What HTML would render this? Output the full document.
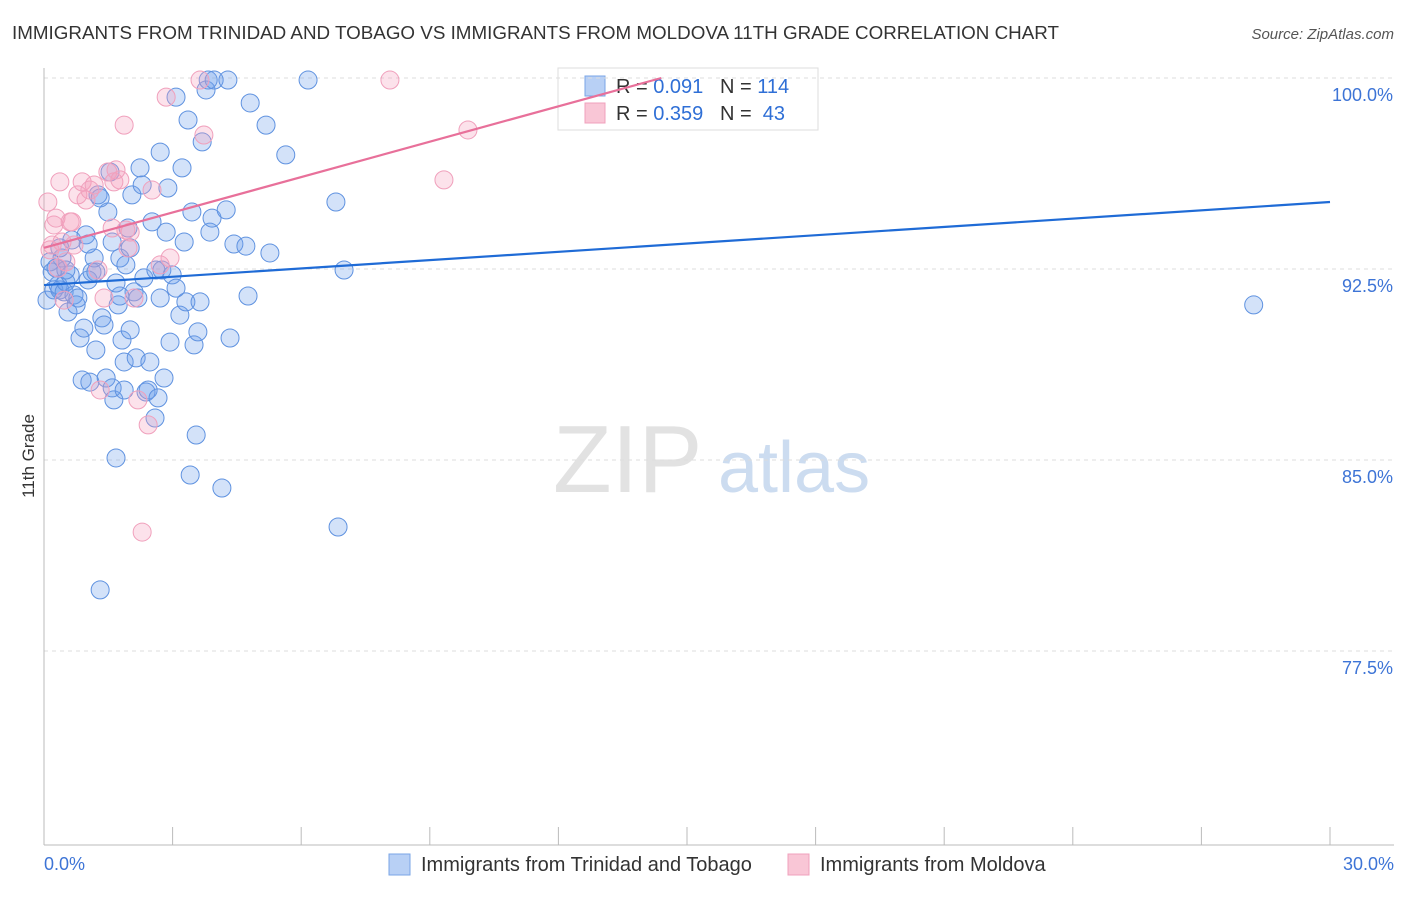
<!DOCTYPE html>
<html><head><meta charset="utf-8"><style>
body{margin:0;background:#fff;font-family:"Liberation Sans",sans-serif;}
svg text{font-family:"Liberation Sans",sans-serif;}
</style></head><body>
<svg id="c" width="1406" height="892">
<text x="12" y="39" font-size="18" fill="#333" textLength="1047" lengthAdjust="spacingAndGlyphs">IMMIGRANTS FROM TRINIDAD AND TOBAGO VS IMMIGRANTS FROM MOLDOVA 11TH GRADE CORRELATION CHART</text>
<text x="1394" y="39" font-size="15" fill="#555" font-style="italic" text-anchor="end">Source: ZipAtlas.com</text>
<text x="34" y="456" font-size="17" fill="#333" transform="rotate(-90 34 456)" text-anchor="middle">11th Grade</text>
<g><text x="553" y="492" font-size="96" fill="#e2e2e2" font-family="Liberation Serif,serif">ZIP</text><text x="718" y="492" font-size="72" fill="#ccdcf0">atlas</text></g>
<g>
<rect x="558" y="68" width="260" height="62" fill="#fff" stroke="#ddd"/>
<rect x="585" y="76" width="20" height="20" fill="#b8d0f5" stroke="#7aa5e6"/>
<rect x="585" y="103" width="20" height="20" fill="#f9c6d6" stroke="#f0a0bc"/>
<text x="616" y="93" font-size="20" fill="#333">R = <tspan fill="#2f6fd6">0.091</tspan>&#160;&#160;&#160;N = <tspan fill="#2f6fd6">114</tspan></text>
<text x="616" y="120" font-size="20" fill="#333">R = <tspan fill="#2f6fd6">0.359</tspan>&#160;&#160;&#160;N = &#160;<tspan fill="#2f6fd6">43</tspan></text>
</g>
<g id="grid"></g><g id="pts"></g><g id="lines"></g>
<g>
<rect x="389" y="854" width="21" height="21" fill="#b8d0f5" stroke="#7aa5e6"/>
<text x="421" y="871" font-size="20" fill="#333">Immigrants from Trinidad and Tobago</text>
<rect x="788" y="854" width="21" height="21" fill="#f9c6d6" stroke="#f0a0bc"/>
<text x="820" y="871" font-size="20" fill="#333">Immigrants from Moldova</text>
</g>
</svg>
<script>
const yTicks=[100,92.5,85,77.5];
const yTickLabels=["100.0%","92.5%","85.0%","77.5%"];
const xTickLabels=["0.0%","30.0%"];
const blueX=[0.07,0.14,0.19,0.23,0.28,0.33,0.37,0.42,0.47,0.51,0.56,0.61,0.65,0.70,0.75,0.79,0.84,0.89,0.93,0.98,1.03,1.07,1.12,1.17,1.21,1.26,1.31,1.35,1.40,1.45,1.49,1.54,1.59,1.63,1.68,1.73,1.77,1.82,1.87,1.91,1.96,2.01,2.05,2.10,2.15,2.24,2.29,2.33,2.38,2.43,2.47,2.52,2.59,2.61,2.66,2.71,2.75,2.80,2.85,2.89,2.94,2.99,3.08,3.17,3.22,3.27,3.31,3.36,3.41,3.45,3.50,3.55,3.59,3.64,3.69,3.78,3.83,3.87,3.92,3.97,4.15,4.25,4.29,4.34,4.43,4.71,4.76,4.81,5.18,5.27,5.64,6.16,6.81,6.86,7.00,28.22,1.31,0.37,1.77,2.01,0.51,1.03,1.68,1.21,2.19,2.71,3.08,1.59,1.87];
const blueY=[91.28,92.78,92.38,91.68,92.54,91.87,91.68,92.93,91.60,91.99,90.81,92.27,93.64,91.48,91.09,91.36,89.79,88.14,90.18,93.84,92.07,88.06,92.38,92.93,89.32,95.41,79.90,90.58,90.30,88.22,94.74,96.31,93.56,87.36,85.08,91.09,92.93,89.71,88.85,92.66,94.11,90.11,95.41,91.60,89.01,96.47,95.80,92.15,87.67,87.75,88.85,94.35,86.65,92.46,87.44,97.09,92.46,88.22,93.95,95.68,89.63,92.27,99.25,90.69,96.47,93.56,91.21,98.35,84.41,94.74,89.52,85.98,90.03,91.21,97.49,99.53,99.92,93.95,94.50,99.92,83.90,94.82,99.92,89.79,93.48,93.40,91.44,99.02,98.15,93.13,96.98,99.92,95.13,82.37,92.46,91.09,95.29,93.33,91.44,93.33,92.46,93.48,91.95,92.38,91.36,91.36,91.75,87.83,87.75];
const pinkX=[0.09,0.14,0.19,0.23,0.28,0.33,0.37,0.42,0.47,0.51,0.61,0.65,0.70,0.79,0.89,0.98,1.07,1.17,1.26,1.31,1.40,1.49,1.59,1.63,1.68,1.77,1.87,1.91,1.96,2.01,2.10,2.19,2.43,2.29,2.52,2.71,2.94,2.85,3.64,3.73,8.07,9.33,9.89];
const pinkY=[95.13,93.25,93.44,94.23,94.50,92.54,95.92,93.56,91.28,92.78,94.35,94.35,93.44,95.41,95.92,95.21,95.60,95.80,92.46,87.75,91.36,96.31,94.11,95.92,96.39,96.00,98.15,94.03,93.33,93.95,91.36,87.36,86.38,82.17,95.60,92.66,92.93,99.25,99.92,97.76,99.92,96.00,97.96];
const blueTrendX=[0,30], blueTrendY=[91.87,95.13];
const pinkTrendX=[0,14.4], pinkTrendY=[93.33,100];
const NS="http://www.w3.org/2000/svg";
const sx=v=>44+v/30*1286, sy=v=>78+(100-v)/7.5*191;
function mk(t,a,p){const e=document.createElementNS(NS,t);for(const k in a)e.setAttribute(k,a[k]);p.appendChild(e);return e;}
const grid=document.getElementById('grid'),pts=document.getElementById('pts'),lines=document.getElementById('lines');
yTicks.forEach((t,i)=>{
 const l=mk('line',{x1:44,x2:1394,y1:sy(t),y2:sy(t),stroke:'#ddd','stroke-dasharray':'4 4'},grid);
 
 
 const tx=mk('text',{x:1393,y:sy(t)+23,'font-size':18,fill:'#3d74d6','text-anchor':'end'},grid);tx.textContent=yTickLabels[i];
 
 
});
const ax=mk('line',{x1:44,x2:44,y1:68,y2:845,stroke:'#bbb'},grid);


const bx=mk('line',{x1:44,x2:1394,y1:845,y2:845,stroke:'#bbb'},grid);


for(let i=1;i<=10;i++){const t=mk('line',{x1:sx(i*3),x2:sx(i*3),y1:827,y2:845,stroke:'#bbb'},grid);
 
 }
[[0,'start',44],[30,'end',1394]].forEach((d,i)=>{const t=mk('text',{x:d[2],y:870,'font-size':18,fill:'#3d74d6','text-anchor':d[1]},grid);t.textContent=xTickLabels[i];
 
 });
blueX.forEach((x,i)=>{const c=mk('circle',{cx:sx(x),cy:sy(blueY[i]),r:9,fill:'rgba(110,160,235,0.3)',stroke:'#5f92e0','stroke-width':1},pts);
 
 });
pinkX.forEach((x,i)=>{const c=mk('circle',{cx:sx(x),cy:sy(pinkY[i]),r:9,fill:'rgba(245,160,190,0.3)',stroke:'#f0a0bc','stroke-width':1},pts);
 
 });
const bl=mk('line',{x1:sx(blueTrendX[0]),y1:sy(blueTrendY[0]),x2:sx(blueTrendX[1]),y2:sy(blueTrendY[1]),stroke:'#1f6bd6','stroke-width':2.2},lines);


const pl=mk('line',{x1:sx(pinkTrendX[0]),y1:sy(pinkTrendY[0]),x2:sx(pinkTrendX[1]),y2:sy(pinkTrendY[1]),stroke:'#e8709a','stroke-width':2.2},lines);


</script>
</body></html>
